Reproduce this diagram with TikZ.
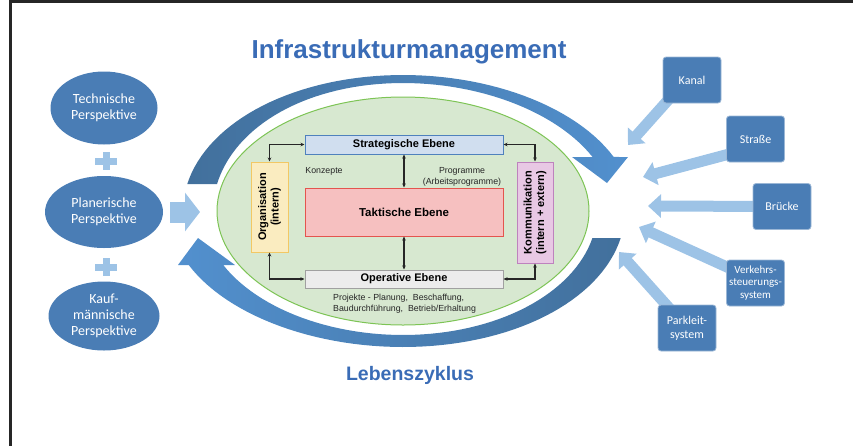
\documentclass[tikz,border=0pt]{standalone}
\usepackage{fontspec}
\newfontfamily\arialfont{Liberation Sans}
\newfontfamily\calfont{Carlito}
\usetikzlibrary{positioning,shapes.geometric,arrows.meta,backgrounds}

\definecolor{deepblue}{RGB}{66,112,156}
\definecolor{midblue}{RGB}{82,144,206}
\definecolor{boxblue}{RGB}{74,125,181}
\definecolor{paleblue}{RGB}{157,195,230}
\definecolor{titleblue}{RGB}{58,108,182}
\definecolor{zonegreen}{RGB}{215,232,208}
\definecolor{zoneline}{RGB}{125,196,85}
\definecolor{stratfill}{RGB}{208,222,239}
\definecolor{stratline}{RGB}{79,129,189}
\definecolor{taktfill}{RGB}{246,192,192}
\definecolor{taktline}{RGB}{228,84,78}
\definecolor{operfill}{RGB}{236,236,236}
\definecolor{operline}{RGB}{160,160,160}
\definecolor{orgfill}{RGB}{250,236,192}
\definecolor{orgline}{RGB}{242,200,100}
\definecolor{kommfill}{RGB}{232,200,228}
\definecolor{kommline}{RGB}{190,130,190}

\tikzset{
  persp/.style={ellipse, fill=boxblue, text=white, inner sep=0pt, align=center,
    font=\calfont\fontsize{14}{16}\selectfont},
  objekt/.style={rectangle, rounded corners=3pt, fill=boxblue, draw=boxblue!55!white,
    line width=0.8pt, text=white, minimum width=58pt, minimum height=46pt,
    inner sep=0pt, align=center, font=\calfont\fontsize{12}{14.3}\selectfont},
  zufluss/.style={paleblue, line width=11pt, -{Triangle[width=23pt,length=13pt]}},
  ebene/.style={rectangle, line width=1pt, minimum width=198pt, inner sep=0pt,
    font=\arialfont\bfseries\fontsize{11}{13}\selectfont},
  seite/.style={rectangle, line width=1pt, rotate=90, inner sep=0pt, align=center,
    font=\arialfont\bfseries\fontsize{11}{12.5}\selectfont},
  link/.style={{Stealth[length=4pt,width=3.5pt]}-{Stealth[length=4pt,width=3.5pt]},
    line width=1.1pt, black!85},
  notiz/.style={font=\arialfont\fontsize{8.8}{11}\selectfont, text=black!85, inner sep=0pt},
  plussign/.pic={
    \fill[paleblue] (-11pt,-3.5pt) rectangle (11pt,3.5pt);
    \fill[paleblue] (-3.5pt,-9pt) rectangle (3.5pt,9pt);
  }
}

\begin{document}
\begin{tikzpicture}[x=1pt,y=-1pt,on grid]
  \useasboundingbox (0,0) rectangle (853,445);
  \draw[line width=3pt, black!85] (10,1.5) rectangle (880,470);

  % Lebenszyklus: two circular arrows
  \shade[left color=deepblue, right color=midblue]
    plot[domain=191.45:336.6, samples=60] ({403+(225+5*cos(\x))*cos(\x)}, {211+136*sin(\x)})
    -- (628,157) -- (607,183) -- (572,157)
    -- plot[domain=335.05:192.18, samples=60] ({403+(200+10*cos(\x))*cos(\x)}, {211+128*sin(\x)})
    -- cycle;
  \shade[left color=midblue, right color=deepblue]
    plot[domain=11.45:156.6, samples=60] ({403+(228-6*cos(\x))*cos(\x)}, {211+136*sin(\x)})
    -- (178,265) -- (198,238) -- (235,265)
    -- plot[domain=154.18:12.58, samples=60] ({403+(197-3*cos(\x))*cos(\x)}, {211+124*sin(\x)})
    -- cycle;

  \node[ellipse, fill=zonegreen, draw=zoneline, line width=1pt, minimum width=372pt,
    minimum height=228pt] (zone) at (403,211) {};

  % Ebenen
  \node[ebene, fill=taktfill, draw=taktline, minimum height=48pt,
    font=\arialfont\bfseries\fontsize{11.5}{13}\selectfont] (takt) at (404,212) {Taktische Ebene};
  \node[ebene, fill=stratfill, draw=stratline, minimum height=19pt, above=67.5pt of takt] (strat) {Strategische Ebene};
  \node[ebene, fill=operfill, draw=operline, minimum height=18pt, below=67pt of takt] (oper) {Operative Ebene};
  \node[seite, fill=orgfill, draw=orgline, minimum width=90pt, minimum height=37pt] (org) at (269.5,207) {Organisation\\(intern)};
  \node[seite, fill=kommfill, draw=kommline, minimum width=101pt, minimum height=36pt] (komm) at (535,212.5) {Kommunikation\\(intern + extern)};

  \draw[link] (org.east) |- (strat.west);
  \draw[link] (org.west) |- (oper.west);
  \draw[link] (komm.east) |- (strat.east);
  \draw[link] (komm.west) |- (oper.east);
  \draw[link] (strat) -- (takt);
  \draw[link] (takt) -- (oper);

  \node[notiz] (konzepte) at (324,171) {Konzepte};
  \node[notiz, align=center] (programme) at (462,176.5) {Programme\\(Arbeitsprogramme)};
  \node[notiz, align=left, anchor=north west] (projekte) at (333,294) {Projekte - Planung,~ Beschaffung,\\Baudurchführung,~ Betrieb/Erhaltung};

  \node[font=\arialfont\bfseries\fontsize{26}{30}\selectfont, text=titleblue, anchor=base] (titel) at (409,58) {Infrastrukturmanagement};
  \node[font=\arialfont\bfseries\fontsize{19.5}{22}\selectfont, text=titleblue, anchor=base] (zyklus) at (410,380) {Lebenszyklus};

  % Perspektiven
  \node[persp, minimum width=107pt, minimum height=73pt] (tech) at (104,108) {Technische\\Perspektive};
  \node[persp, minimum width=118pt, minimum height=72pt, below=104pt of tech] (plan) {Planerische\\Perspektive};
  \node[persp, minimum width=111pt, minimum height=69pt, below=104pt of plan] (kauf) {Kauf-\\männische\\Perspektive};
  \pic at (106,161) {plussign};
  \pic at (106,267) {plussign};
  \coordinate (eingang) at (200,212);
  \draw[paleblue, line width=21pt, -{Triangle[width=38pt,length=15pt]}, shorten <=7pt] (plan) -- (eingang);

  % Objekte
  \node[objekt] (kanal) at (692,80) {Kanal};
  \node[objekt] (strasse) at (755.5,139) {Straße};
  \node[objekt] (bruecke) at (782,206.5) {Brücke};
  \node[objekt, font=\calfont\fontsize{11}{12.7}\selectfont] (verkehr) at (755.5,283) {Verkehrs-\\steuerungs-\\system};
  \node[objekt] (parkleit) at (687,328) {Parkleit-\\system};

  \coordinate (zielK) at (628,145);
  \coordinate (zielS) at (643,177);
  \coordinate (zielB) at (648,206);
  \coordinate (zielV) at (639,227);
  \coordinate (zielP) at (619,252);
  \begin{pgfonlayer}{background}
    \draw[zufluss] ([xshift=-6pt]kanal.center) -- (zielK);
    \draw[zufluss] ([yshift=-8pt]strasse.center) -- (zielS);
    \draw[zufluss] (bruecke.center) -- (zielB);
    \draw[zufluss] ([yshift=3pt]verkehr.center) -- (zielV);
    \draw[zufluss] (parkleit.center) -- (zielP);
  \end{pgfonlayer}
\end{tikzpicture}
\end{document}
